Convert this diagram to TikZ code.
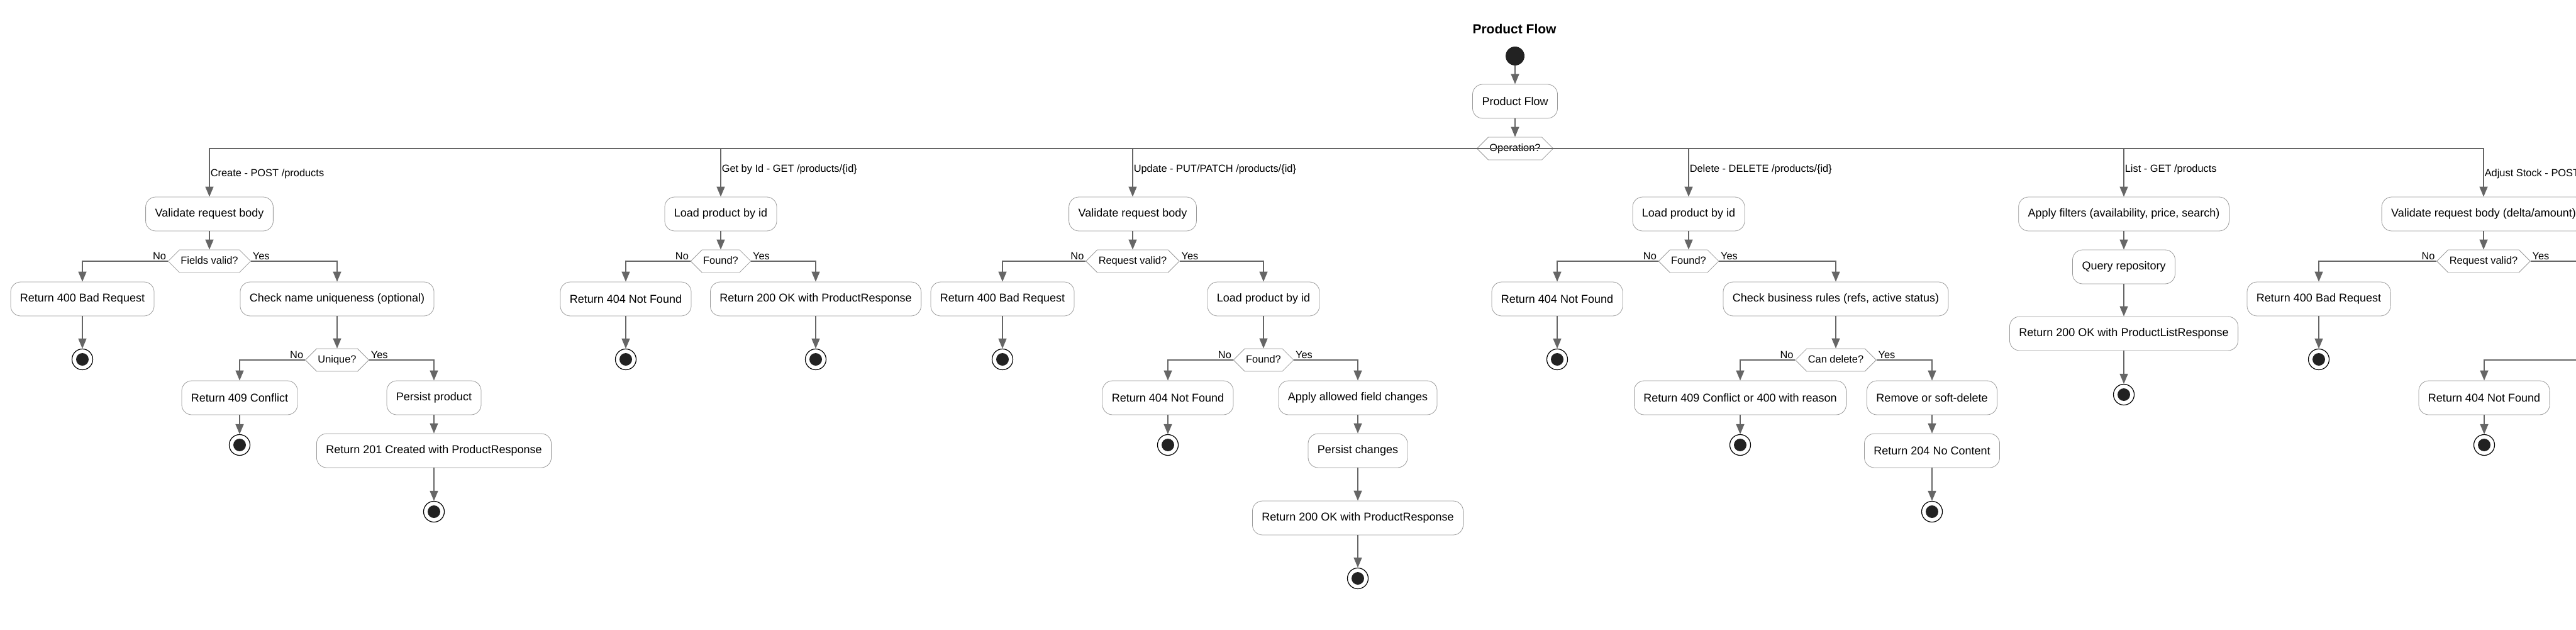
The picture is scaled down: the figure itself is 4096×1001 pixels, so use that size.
\documentclass[tikz,border=0pt]{standalone}
\usepackage{fontspec}
\setmainfont{Liberation Sans}
\usepackage{tikz}
\usetikzlibrary{arrows.meta,shapes.symbols}

\definecolor{linegray}{HTML}{666666}
\definecolor{boxgray}{HTML}{9A9A9A}
\definecolor{dotblack}{HTML}{222222}

\tikzset{
    action/.style={draw=boxgray, fill=white, rounded corners=8pt, inner xsep=7.5pt,
        minimum height=27pt, font=\fontsize{9}{11}\selectfont},
    choice/.style={signal, signal to=east and west, signal pointer angle=90,
        draw=boxgray, fill=white, inner xsep=1pt, inner ysep=5pt,
        text height=6.2pt, text depth=1.8pt, font=\fontsize{8.2}{10}\selectfont},
    startdot/.style={circle, fill=dotblack, minimum size=15pt, inner sep=0pt},
    enddot/.style={circle, draw=black, line width=0.6pt, fill=white, minimum size=16.5pt,
        inner sep=0pt, path picture={\fill[dotblack] (path picture bounding box.center) circle (5pt);}},
    flow/.style={draw=linegray, line width=0.75pt, -{Triangle[length=8pt,width=6.5pt]}},
    branch/.style={anchor=west, inner xsep=0.5pt, font=\fontsize{8.2}{10}\selectfont},
    nolabel/.style={anchor=south east, inner sep=1pt, font=\fontsize{8.2}{10}\selectfont},
    yeslabel/.style={anchor=south west, inner sep=1pt, font=\fontsize{8.2}{10}\selectfont}
}

\begin{document}
\begin{tikzpicture}[x=0.5pt,y=-0.5pt]
        \useasboundingbox (0,0) rectangle (4096,1001);

        % title, start and the operation switch
        \node[font=\bfseries\fontsize{10.5}{12}\selectfont] (title) at (2408,46) {Product Flow};
        \node[startdot] (start) at (2409,89) {};
        \node[action] (pf) at (2409,161) {Product Flow};
        \node[choice] (op) at (2409,236) {Operation?};

        % create
        \node[action] (cv) at (333,340) {Validate request body};
        \node[choice] (cd) at (333,415) {Fields valid?};
        \node[action] (cbad) at (131,475) {Return 400 Bad Request};
        \node[action] (cchk) at (536,475) {Check name uniqueness (optional)};
        \node[choice] (cu) at (536,572) {Unique?};
        \node[action] (cconf) at (381,632) {Return 409 Conflict};
        \node[action] (cpers) at (690,632) {Persist product};
        \node[action] (cret) at (690,716) {Return 201 Created with ProductResponse};

        % get by id
        \node[action] (gl) at (1146,340) {Load product by id};
        \node[choice] (gd) at (1146,415) {Found?};
        \node[action] (gnf) at (995,475) {Return 404 Not Found};
        \node[action] (gok) at (1297,475) {Return 200 OK with ProductResponse};

        % update
        \node[action] (uv) at (1801,340) {Validate request body};
        \node[choice] (ud) at (1801,415) {Request valid?};
        \node[action] (ubad) at (1594,475) {Return 400 Bad Request};
        \node[action] (ul) at (2009,475) {Load product by id};
        \node[choice] (uf) at (2009,572) {Found?};
        \node[action] (unf) at (1857,632) {Return 404 Not Found};
        \node[action] (uap) at (2159,632) {Apply allowed field changes};
        \node[action] (upers) at (2159,716) {Persist changes};
        \node[action] (uok) at (2159,823) {Return 200 OK with ProductResponse};

        % delete
        \node[action] (dl) at (2685,340) {Load product by id};
        \node[choice] (dd) at (2685,415) {Found?};
        \node[action] (dnf) at (2476,475) {Return 404 Not Found};
        \node[action] (dchk) at (2919,475) {Check business rules (refs, active status)};
        \node[choice] (dc) at (2919,572) {Can delete?};
        \node[action] (dconf) at (2767,632) {Return 409 Conflict or 400 with reason};
        \node[action] (drem) at (3072,632) {Remove or soft-delete};
        \node[action] (dnc) at (3072,716) {Return 204 No Content};

        % list
        \node[action] (lf) at (3377,340) {Apply filters (availability, price, search)};
        \node[action] (lq) at (3377,424) {Query repository};
        \node[action] (lok) at (3377,530) {Return 200 OK with ProductListResponse};

        % adjust stock (runs past the right edge)
        \node[action] (av) at (3949,340) {Validate request body (delta/amount)};
        \node[choice] (ad) at (3949,415) {Request valid?};
        \node[action] (abad) at (3687,475) {Return 400 Bad Request};
        \node[action] (anf) at (3950,632) {Return 404 Not Found};
        \coordinate (ayes) at (4200,415);
        \coordinate (ano) at (4200,572);

        % final states
        \foreach \n/\x/\y in {
            cend1/131/571, cend2/381/707, cend3/690/813,
            gend1/995/571, gend2/1297/571,
            uend1/1594/571, uend2/1857/707, uend3/2159/919,
            dend1/2476/571, dend2/2767/707, dend3/3072/813,
            lend/3377/627,
            aend1/3687/571, aend2/3950/707}
                \node[enddot] (\n) at (\x,\y) {};

        % straight steps
        \foreach \a/\b in {
            start/pf, pf/op,
            cv/cd, cbad/cend1, cchk/cu, cconf/cend2, cpers/cret, cret/cend3,
            gl/gd, gnf/gend1, gok/gend2,
            uv/ud, ubad/uend1, ul/uf, unf/uend2, uap/upers, upers/uok, uok/uend3,
            dl/dd, dnf/dend1, dchk/dc, dconf/dend2, drem/dnc, dnc/dend3,
            lf/lq, lq/lok, lok/lend,
            av/ad, abad/aend1, anf/aend2}
                \draw[flow] (\a.south) -- (\b.north);

        % the operation branches
        \foreach \b/\s/\p/\t in {
            cv/west/0.76/{Create - POST /products},
            gl/west/0.72/{Get by Id - GET /products/\{id\}},
            uv/east/0.72/{Update - PUT/PATCH /products/\{id\}},
            dl/east/0.72/{Delete - DELETE /products/\{id\}},
            lf/east/0.72/{List - GET /products},
            av/east/0.76/{Adjust Stock - POST}}
                \draw[flow] (op.\s) -| node[branch,pos=\p] {\t} (\b.north);

        % the yes/no decisions
        \foreach \d/\n/\y in {cd/cbad/cchk, cu/cconf/cpers, gd/gnf/gok, ud/ubad/ul,
                              uf/unf/uap, dd/dnf/dchk, dc/dconf/drem} {
                \draw[flow] (\d.west) -| node[nolabel,pos=0] {No} (\n.north);
                \draw[flow] (\d.east) -| node[yeslabel,pos=0] {Yes} (\y.north);
        }
        \draw[flow] (ad.west) -| node[nolabel,pos=0] {No} (abad.north);
        \draw[draw=linegray, line width=0.75pt] (ad.east) node[yeslabel] {Yes} -- (ayes);
        \draw[flow] (ano) -| (anf.north);
\end{tikzpicture}
\end{document}
